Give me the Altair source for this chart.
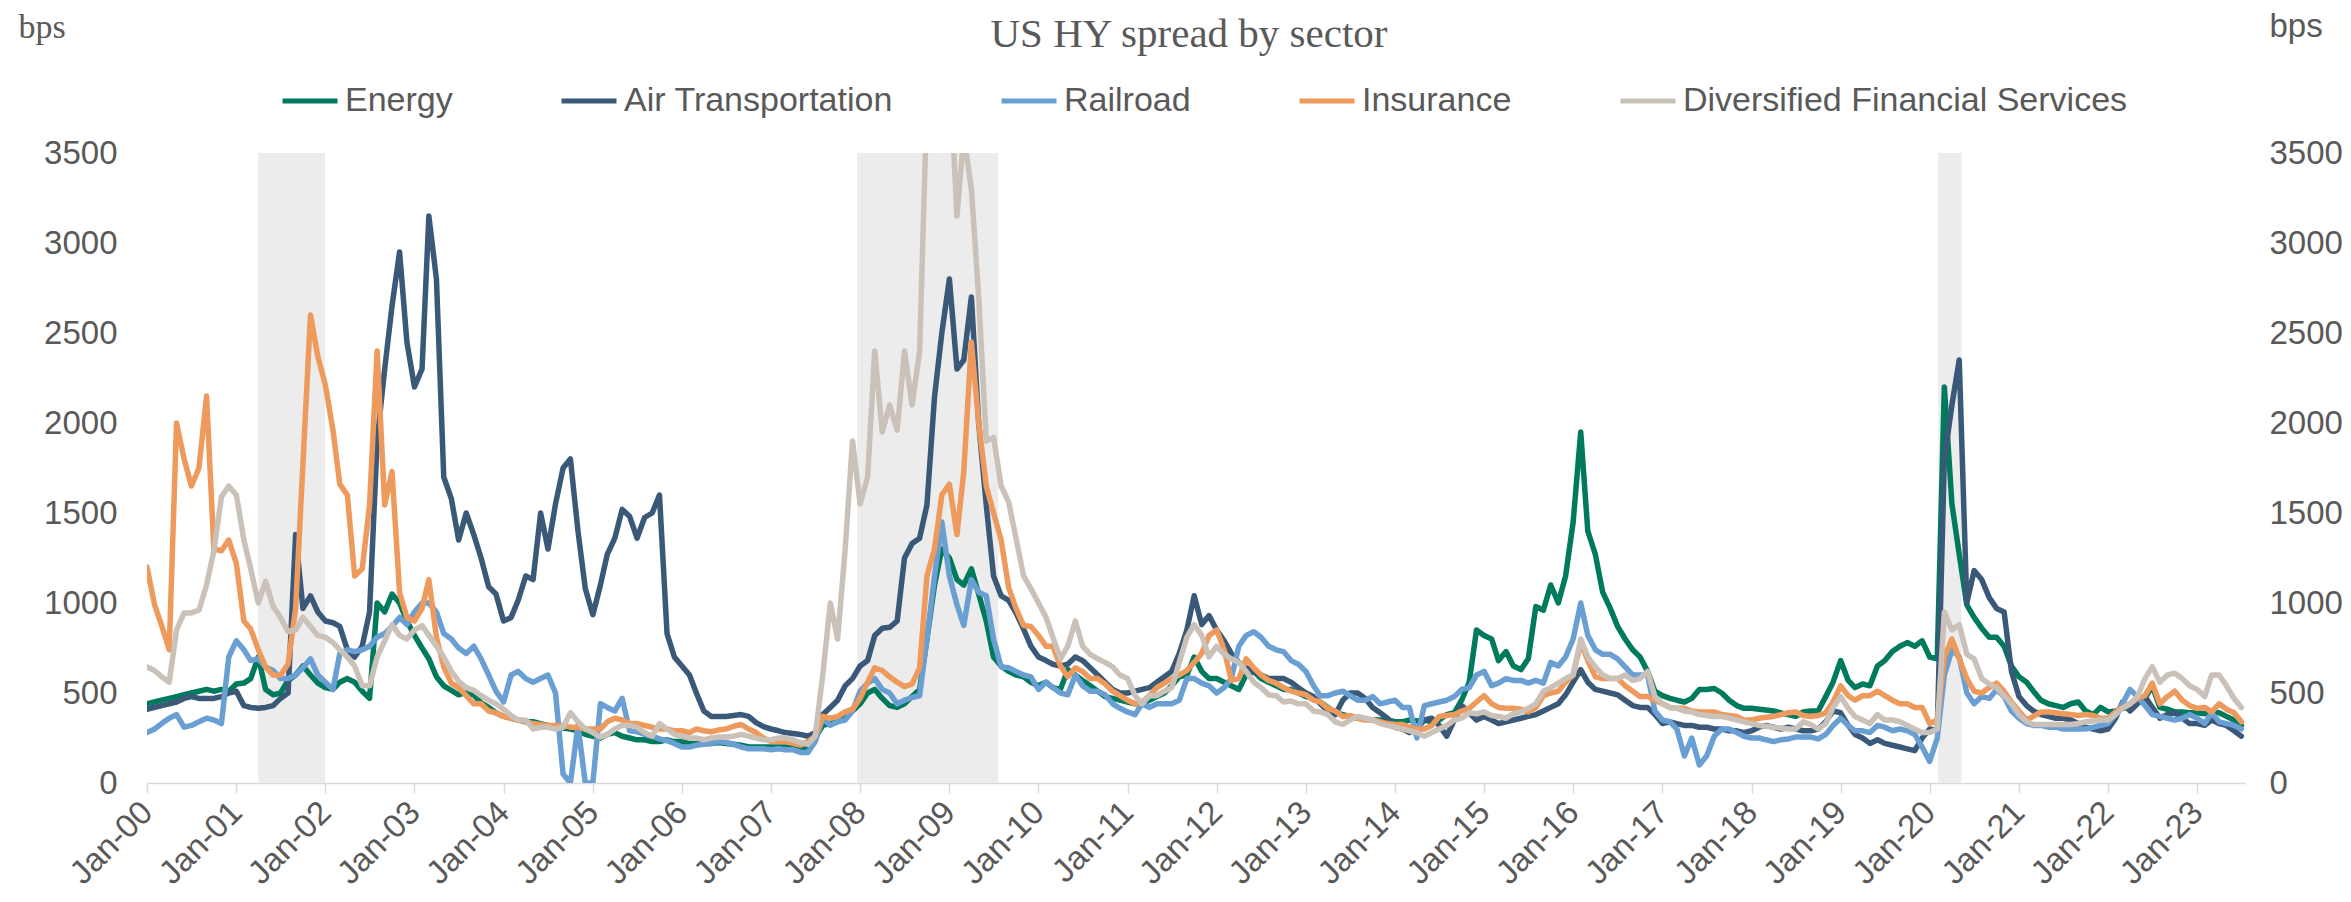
import altair as alt
import pandas as pd

# ---------------- data (monthly, Jan-2000 .. Jul-2023, bps) ----------------
series_names = ["Energy", "Air Transportation", "Railroad", "Insurance",
                "Diversified Financial Services"]
series_colors = ["#007A5C", "#3A5878", "#6A9FD3", "#EE9A5C", "#CAC1B9"]

energy = [
    440, 450, 460, 470, 480, 490, 500, 510, 520, 510, 520, 510,      # 2000
    550, 555, 580, 700, 520, 490, 500, 570, 600, 650, 600, 555,      # 2001
    530, 520, 560, 580, 560, 510, 470, 1000, 950, 1050, 1000, 900,   # 2002
    820, 750, 690, 590, 540, 515, 490, 505, 490, 445, 420, 390,      # 2003
    370, 360, 350, 340, 340, 330, 320, 310, 305, 300, 290, 270,      # 2004
    260, 250, 270, 280, 260, 250, 240, 240, 230, 230, 240, 230,      # 2005
    230, 220, 220, 220, 220, 225, 220, 215, 210, 200, 200, 200,      # 2006
    200, 200, 200, 195, 190, 200, 250, 320, 330, 340, 360, 400,      # 2007
    440, 500, 520, 470, 430, 420, 440, 480, 520, 800, 1100, 1300,    # 2008
    1250, 1130, 1100, 1190, 1050, 900, 700, 650, 620, 600, 590, 560, # 2009
    540, 560, 530, 520, 630, 600, 570, 540, 510, 480, 470, 460,      # 2010
    450, 440, 440, 460, 480, 500, 540, 590, 600, 700, 620, 580,      # 2011
    580, 560, 540, 520, 600, 620, 580, 560, 540, 520, 520, 500,      # 2012
    480, 470, 450, 420, 390, 380, 370, 360, 355, 350, 350, 350,      # 2013
    340, 340, 350, 345, 350, 340, 350, 380, 390, 460, 560, 850,      # 2014
    820, 800, 680, 730, 650, 630, 690, 980, 960, 1100, 1000, 1150,   # 2015
    1450, 1950, 1400, 1270, 1060, 970, 870, 800, 740, 700, 620, 510, # 2016
    485, 470, 460, 450, 470, 520, 520, 525, 500, 460, 430, 415,      # 2017
    415, 410, 405, 400, 390, 380, 370, 395, 400, 400, 480, 560,      # 2018
    680, 570, 530, 550, 540, 650, 680, 730, 760, 780, 760, 790,      # 2019
    700, 690, 2200, 1550, 1270, 990, 920, 860, 810, 810, 760, 650,   # 2020
    590, 560, 510, 460, 440, 430, 420, 440, 450, 400, 380, 420,      # 2021
    395, 400, 415, 420, 480, 470, 540, 420, 410, 395, 395, 390,      # 2022
    390, 385, 395, 390, 370, 350, 320,                               # 2023
]

air = [
    410, 420, 430, 440, 450, 470, 480, 470, 470, 470, 480, 500,            # 2000
    510, 430, 420, 415, 420, 430, 470, 500, 1380, 970, 1040, 950,          # 2001
    900, 890, 870, 740, 700, 760, 950, 1900, 2300, 2650, 2950, 2450,       # 2002
    2200, 2300, 3150, 2800, 1700, 1580, 1350, 1500, 1380, 1250, 1090, 1050,# 2003
    900, 920, 1015, 1150, 1130, 1500, 1300, 1550, 1750, 1800, 1400, 1080,  # 2004
    935, 1100, 1270, 1360, 1520, 1480, 1360, 1475, 1500, 1600, 830, 700,   # 2005
    650, 600, 500, 400, 370, 370, 370, 375, 380, 370, 335, 313,            # 2006
    300, 290, 280, 275, 270, 260, 280, 380, 420, 460, 540, 580,            # 2007
    650, 680, 820, 860, 865, 900, 1250, 1330, 1360, 1545, 2145, 2500,      # 2008
    2800, 2300, 2350, 2700, 2000, 1545, 1150, 1040, 1015, 945, 855, 760,   # 2009
    700, 680, 660, 650, 660, 700, 680, 640, 600, 560, 520, 500,            # 2010
    500, 510, 520, 530, 560, 590, 620, 720, 850, 1040, 880, 930,           # 2011
    850, 790, 720, 670, 640, 620, 600, 580, 580, 580, 560, 530,            # 2012
    500, 480, 440, 400, 380, 460, 500, 500, 470, 420, 390, 360,            # 2013
    310, 300, 280, 300, 350, 360, 320, 260, 350, 430, 390, 350,            # 2014
    370, 350, 330, 340, 350, 360, 370, 380, 400, 420, 440, 490,            # 2015
    560, 630, 560, 520, 510, 500, 490, 460, 430, 420, 420, 380,            # 2016
    330, 340, 330, 320, 320, 310, 310, 300, 300, 290, 290, 280,            # 2017
    290, 310, 320, 310, 300, 310, 300, 290, 290, 300, 340, 400,            # 2018
    390, 320, 270, 250, 220, 240, 220, 210, 200, 190, 180, 250,            # 2019
    300, 290, 1800, 2100, 2350, 1000, 1180, 1130, 1030, 970, 950, 620,     # 2020
    480, 430, 400, 380, 370, 360, 360, 350, 330, 310, 300, 290,            # 2021
    300, 360, 450, 400, 440, 480, 420, 360, 380, 390, 360, 330,            # 2022
    330, 320, 350, 330, 320, 290, 260,                                     # 2023
]

railroad = [
    280, 300, 330, 360, 380, 310, 320, 340, 360, 350, 330, 700,      # 2000
    790, 740, 680, 690, 645, 625, 580, 580, 600, 640, 690, 600,      # 2001
    560, 520, 720, 740, 730, 740, 760, 810, 830, 870, 920, 880,      # 2002
    950, 1000, 1000, 950, 830, 800, 750, 720, 760, 690, 600, 510,    # 2003
    450, 600, 620, 580, 560, 580, 600, 500, 50, 0, 320, 0,           # 2004
    0, 440, 420, 400, 470, 290, 285, 270, 260, 245, 235, 220,        # 2005
    200, 200, 210, 215, 220, 230, 225, 215, 200, 190, 190, 190,      # 2006
    185, 190, 185, 185, 170, 170, 230, 360, 320, 340, 350, 400,      # 2007
    510, 555, 580, 520, 500, 440, 460, 475, 485, 800, 1150, 1450,    # 2008
    1150, 990, 875, 1130, 1060, 1040, 800, 645, 640, 620, 600, 590,  # 2009
    520, 560, 530, 500, 490, 600, 540, 510, 510, 490, 440, 415,      # 2010
    395, 380, 440, 420, 440, 440, 440, 460, 580, 580, 555, 540,      # 2011
    500, 530, 580, 760, 820, 840, 810, 760, 740, 730, 680, 660,      # 2012
    620, 540, 485, 485, 500, 510, 485, 460, 460, 480, 440, 450,      # 2013
    460, 420, 420, 250, 430, 440, 450, 460, 480, 520, 530, 600,      # 2014
    620, 540, 555, 580, 570, 570, 555, 570, 555, 670, 650, 700,      # 2015
    800, 1000, 820, 740, 715, 715, 690, 645, 600, 600, 600, 400,     # 2016
    350, 340, 300, 150, 250, 100, 150, 260, 300, 300, 280, 260,      # 2017
    250, 250, 240, 230, 240, 245, 255, 255, 255, 245, 270, 320,      # 2018
    360, 320, 290, 290, 280, 320, 310, 290, 300, 290, 270, 200,      # 2019
    120, 250, 600, 740, 700, 500, 440, 480, 470, 520, 480, 400,      # 2020
    360, 330, 320, 320, 310, 310, 300, 300, 300, 300, 310, 320,      # 2021
    330, 380, 440, 520, 480, 430, 380, 370, 360, 350, 360, 380,      # 2022
    360, 330, 390, 340, 330, 320, 300,                               # 2023
]

insurance = [
    1200, 990, 875, 740, 2000, 1800, 1650, 1750, 2150, 1300, 1290, 1350,    # 2000
    1220, 900, 855, 740, 645, 600, 600, 660, 970, 1775, 2600, 2370,         # 2001
    2210, 1960, 1660, 1600, 1150, 1190, 1545, 2400, 1545, 1730, 1060, 920,  # 2002
    900, 970, 1130, 810, 645, 555, 530, 485, 440, 440, 400, 390,            # 2003
    370, 360, 350, 340, 330, 325, 320, 320, 320, 310, 310, 300,             # 2004
    300, 300, 340, 360, 350, 330, 330, 320, 310, 300, 300, 290,             # 2005
    290, 280, 300, 290, 285, 295, 300, 315, 325, 300, 280, 250,             # 2006
    230, 230, 230, 220, 210, 230, 260, 370, 360, 370, 395, 410,             # 2007
    470, 560, 640, 625, 590, 560, 535, 550, 640, 1150, 1300, 1600,          # 2008
    1660, 1380, 1730, 2450, 2000, 1650, 1500, 1350, 1085, 970, 875, 870,    # 2009
    820, 760, 760, 650, 590, 640, 620, 580, 580, 550, 510, 485,             # 2010
    460, 440, 450, 485, 530, 555, 580, 600, 625, 670, 720, 820,             # 2011
    850, 740, 570, 580, 690, 640, 600, 570, 555, 530, 510, 500,             # 2012
    490, 460, 450, 415, 400, 370, 375, 360, 350, 350, 340, 330,             # 2013
    325, 325, 310, 300, 300, 320, 370, 375, 380, 400, 415, 450,             # 2014
    485, 440, 420, 415, 415, 410, 395, 420, 485, 500, 510, 560,             # 2015
    600, 780, 680, 590, 580, 580, 580, 540, 510, 480, 480, 460,             # 2016
    440, 420, 415, 415, 400, 395, 395, 395, 380, 375, 370, 350,             # 2017
    350, 360, 365, 370, 380, 390, 395, 375, 370, 375, 390, 450,             # 2018
    540, 485, 460, 485, 485, 510, 485, 460, 440, 440, 420, 420,             # 2019
    330, 350, 700, 800, 690, 580, 510, 500, 530, 555, 510, 450,             # 2020
    400, 350, 370, 395, 395, 390, 385, 380, 375, 380, 375, 360,             # 2021
    360, 395, 420, 440, 470, 485, 555, 440, 480, 510, 460, 430,             # 2022
    415, 420, 395, 440, 410, 390, 340,                                      # 2023
]

dfs = [
    645, 625, 590, 560, 850, 945, 945, 960, 1100, 1290, 1590, 1650,         # 2000
    1600, 1350, 1190, 1000, 1120, 980, 920, 840, 850, 920, 870, 820,        # 2001
    810, 780, 740, 700, 650, 540, 540, 700, 790, 880, 820, 800,             # 2002
    850, 875, 820, 760, 700, 620, 565, 530, 515, 485, 460, 440,             # 2003
    410, 375, 350, 350, 300, 310, 310, 300, 310, 390, 340, 300,             # 2004
    280, 255, 270, 300, 320, 320, 310, 280, 260, 330, 300, 270,             # 2005
    260, 250, 250, 240, 250, 255, 255, 260, 270, 260, 250, 240,             # 2006
    240, 250, 250, 240, 225, 215, 260, 600, 1000, 800, 1300, 1900,          # 2007
    1550, 1700, 2400, 1950, 2100, 1960, 2400, 2100, 2400, 3800, 4100, 4000, # 2008
    4000, 3150, 3600, 3300, 2700, 1900, 1920, 1650, 1560, 1360, 1150, 1080, # 2009
    1000, 920, 810, 690, 760, 900, 760, 715, 690, 670, 645, 600,            # 2010
    580, 485, 440, 485, 485, 510, 530, 670, 810, 880, 820, 700,             # 2011
    760, 715, 690, 670, 620, 560, 530, 490, 485, 450, 455, 440,             # 2012
    440, 400, 395, 380, 340, 325, 350, 370, 360, 350, 330, 320,             # 2013
    310, 300, 290, 280, 260, 280, 300, 320, 350, 360, 390, 385,             # 2014
    395, 375, 370, 360, 385, 395, 415, 440, 510, 530, 555, 580,             # 2015
    600, 800, 700, 645, 600, 580, 580, 600, 570, 580, 620, 480,             # 2016
    440, 420, 415, 400, 395, 380, 375, 370, 370, 360, 350, 340,             # 2017
    330, 320, 315, 310, 305, 300, 300, 340, 325, 300, 330, 420,             # 2018
    480, 415, 370, 350, 330, 380, 350, 350, 340, 320, 300, 280,             # 2019
    280, 300, 950, 850, 880, 715, 690, 580, 550, 530, 485, 440,             # 2020
    380, 340, 325, 325, 325, 325, 325, 325, 330, 340, 345, 350,             # 2021
    350, 380, 415, 440, 480, 580, 645, 560, 600, 610, 580, 540,             # 2022
    520, 480, 600, 600, 540, 470, 420,                                      # 2023
]

# US recession shading periods
rec_start = ["2001-04-01T00:00:00", "2007-12-20T00:00:00", "2020-02-05T00:00:00"]
rec_end = ["2001-12-31T00:00:00", "2009-07-20T00:00:00", "2020-05-10T00:00:00"]

tick_years = list(range(2000, 2024))
title_text = "US HY spread by sector"

# ---------------- build tables ----------------
all_series = [energy, air, railroad, insurance, dfs]
n = len(energy)
for s in all_series:
    assert len(s) == n, len(s)
dates = pd.date_range("2000-01-01", periods=n, freq="MS").strftime("%Y-%m-%dT00:00:00").tolist()

rows = []
for name, vals in zip(series_names, all_series):
    for d, v in zip(dates, vals):
        rows.append({"date": d, "series": name, "value": v})
df = pd.DataFrame(rows)

rec_df = pd.DataFrame({"start": rec_start, "end": rec_end,
                       "lo": [0] * len(rec_start), "hi": [3500] * len(rec_start)})

GREY_TXT = "#595959"
SANS = "Liberation Sans"
SERIF = "Liberation Serif"

x_scale = alt.Scale(domain=[alt.DateTime(year=2000, month=1, date=1),
                            alt.DateTime(year=2023, month=7, date=16)])
y_scale = alt.Scale(domain=[0, 3500], nice=False, zero=True)
color_scale = alt.Scale(domain=series_names, range=series_colors)

x_axis = alt.Axis(
    values=[alt.DateTime(year=y, month=1, date=1) for y in tick_years],
    format="%b-%y", labelAngle=-45, labelAlign="right", labelBaseline="middle",
    labelPadding=14, labelFont=SANS, labelFontSize=33, labelColor=GREY_TXT,
    labelOverlap=False, labelFlush=False,
    domainColor="#d9d9d9", domainWidth=1.5, tickColor="#d9d9d9", tickWidth=1.5,
    tickSize=10, grid=False, title=None,
)
left_axis = alt.Axis(
    orient="left", values=list(range(0, 3501, 500)), format="d", domain=False,
    ticks=False, grid=False, labelFont=SANS, labelFontSize=33, labelColor=GREY_TXT,
    labelPadding=30, title="bps", titleFont=SERIF, titleFontSize=34,
    titleFontWeight="normal", titleColor=GREY_TXT, titleAngle=0,
    titleAlign="left", titleBaseline="alphabetic", titleX=-129, titleY=-116,
)
right_axis = alt.Axis(
    orient="right", values=list(range(0, 3501, 500)), format="d", domain=False,
    ticks=False, grid=False, labelFont=SANS, labelFontSize=33, labelColor=GREY_TXT,
    labelPadding=24, title="bps", titleFont=SANS, titleFontSize=33,
    titleFontWeight="normal", titleColor=GREY_TXT, titleAngle=0,
    titleAlign="left", titleBaseline="alphabetic", titleX=24, titleY=-117,
)
legend = alt.Legend(
    orient="none", legendX=133, legendY=-82, direction="horizontal", columns=5,
    title=None, symbolType="stroke", symbolSize=3025, symbolStrokeWidth=5,
    labelFont=SANS, labelFontSize=34, labelColor=GREY_TXT, labelOffset=5,
    columnPadding=98, labelLimit=1000,
)

rec = alt.Chart(rec_df).mark_rect(color="#ececec").encode(
    x=alt.X("start:T", scale=x_scale, axis=x_axis),
    x2="end:T",
    y=alt.Y("lo:Q", scale=y_scale, axis=right_axis),
    y2="hi:Q",
)

line_layers = []
for name in series_names:
    line_layers.append(
        alt.Chart(df).transform_filter(alt.datum.series == name)
        .mark_line(strokeWidth=5.5, clip=True, strokeJoin="round", strokeCap="round")
        .encode(
            x=alt.X("date:T", scale=x_scale, axis=x_axis),
            y=alt.Y("value:Q", scale=y_scale, axis=left_axis),
            color=alt.Color("series:N", scale=color_scale, legend=legend),
        )
    )

title_layer = alt.Chart(pd.DataFrame({"t": [title_text]})).mark_text(
    font=SERIF, fontSize=41, color=GREY_TXT, align="center", baseline="alphabetic"
).encode(x=alt.value(1042), y=alt.value(-106), text="t:N")

lines = alt.layer(*line_layers, title_layer)

chart = (
    alt.layer(rec, lines)
    .resolve_scale(y="independent")
    .properties(
        width=2098, height=630,
        padding={"left": 139, "top": 145, "right": 98, "bottom": 111},
        autosize=alt.AutoSizeParams(type="none"),
        background="white",
    )
    .configure_view(stroke=None)
)

chart.save("out.html", embed_options={"renderer": "svg", "actions": False})
